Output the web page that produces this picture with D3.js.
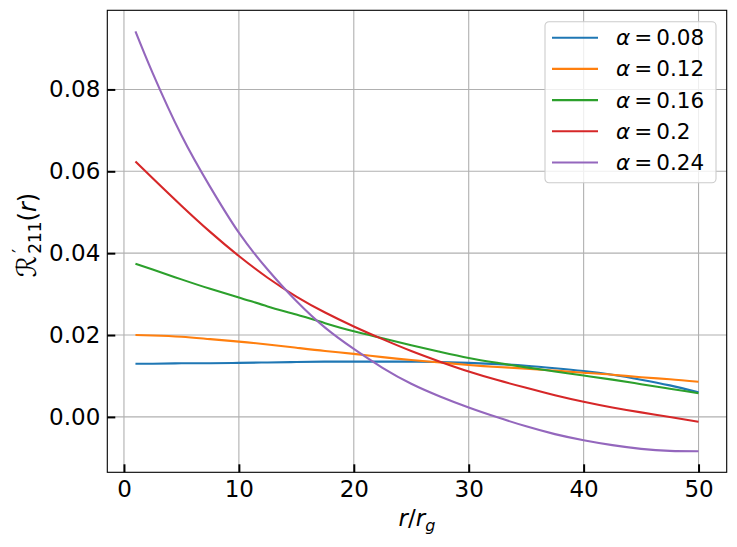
<!DOCTYPE html>
<html>
<head>
<meta charset="utf-8">
<script src="https://cdn.jsdelivr.net/npm/d3@7"></script>
<style>
  body { margin: 0; background: #fff; }
  text { font-family: "DejaVu Sans", sans-serif; }
</style>
</head>
<body>
<svg id="chart"></svg>
<script>
// radius values r/r_g where curves are read
const rValues = [1, 2.5, 5, 7.5, 10, 12.5, 15, 17.5, 20, 22.5, 25, 27.5, 30, 32.5, 35, 37.5, 40, 42.5, 45, 47.5, 50];

const alphaLabels = ["0.08", "0.12", "0.16", "0.2", "0.24"];

const a008 = [0.0130, 0.0130, 0.0131, 0.0131, 0.0132, 0.0133, 0.0134, 0.0135, 0.0135, 0.0135, 0.0135, 0.0134, 0.0132, 0.0129, 0.0125, 0.0119, 0.0112, 0.0103, 0.0091, 0.0077, 0.0060];
const a012 = [0.0200, 0.0199, 0.0196, 0.0190, 0.0184, 0.0177, 0.0169, 0.0161, 0.0154, 0.0146, 0.0139, 0.0133, 0.0127, 0.0122, 0.0118, 0.0113, 0.0108, 0.0103, 0.0097, 0.0092, 0.0086];
const a016 = [0.0374, 0.0360, 0.0336, 0.0313, 0.0292, 0.0270, 0.0250, 0.0229, 0.0209, 0.0192, 0.0175, 0.0159, 0.0144, 0.0132, 0.0121, 0.0111, 0.0101, 0.0091, 0.0080, 0.0069, 0.0058];
const a020 = [0.0624, 0.0583, 0.0516, 0.0452, 0.0393, 0.0340, 0.0294, 0.0255, 0.0221, 0.0190, 0.0161, 0.0135, 0.0111, 0.0090, 0.0071, 0.0053, 0.0037, 0.0023, 0.0011, 0.0000, -0.0012];
const a024 = [0.0942, 0.0840, 0.0688, 0.0562, 0.0450, 0.0360, 0.0283, 0.0218, 0.0166, 0.0120, 0.0081, 0.0050, 0.0023, -0.0001, -0.0023, -0.0042, -0.0057, -0.0069, -0.0078, -0.0083, -0.0084];

const xTicks = [0, 10, 20, 30, 40, 50];
const yTicks = [0.00, 0.02, 0.04, 0.06, 0.08];

const colors = ["#1f77b4", "#ff7f0e", "#2ca02c", "#d62728", "#9467bd"];

const series = [a008, a012, a016, a020, a024].map((vals, i) => ({
  label: alphaLabels[i],
  color: colors[i],
  points: rValues.map((r, j) => [r, vals[j]])
}));

const width = 737, height = 547;
const margin = { top: 10.3, right: 10.3, bottom: 74.7, left: 107.3 };
const w = width - margin.left - margin.right;
const h = height - margin.top - margin.bottom;

const svg = d3.select("#chart").attr("width", width).attr("height", height);
const g = svg.append("g").attr("transform", `translate(${margin.left},${margin.top})`);

// matplotlib style 5% padding
const xExt = d3.extent(rValues);
const xPad = (xExt[1] - xExt[0]) * 0.05;
const allY = series.flatMap(s => s.points.map(p => p[1]));
const yExt = d3.extent(allY);
const yPad = (yExt[1] - yExt[0]) * 0.05;

const x = d3.scaleLinear().domain([xExt[0] - xPad, xExt[1] + xPad]).range([0, w]);
const y = d3.scaleLinear().domain([yExt[0] - yPad, yExt[1] + yPad]).range([h, 0]);

// grid
g.append("g").selectAll("line").data(xTicks).enter().append("line")
  .attr("x1", d => x(d)).attr("x2", d => x(d))
  .attr("y1", 0).attr("y2", h)
  .attr("stroke", "#b0b0b0").attr("stroke-width", 1.1);
g.append("g").selectAll("line").data(yTicks).enter().append("line")
  .attr("y1", d => y(d)).attr("y2", d => y(d))
  .attr("x1", 0).attr("x2", w)
  .attr("stroke", "#b0b0b0").attr("stroke-width", 1.1);

// curves
const line = d3.line().x(d => x(d[0])).y(d => y(d[1])).curve(d3.curveNatural);
g.append("g").selectAll("path").data(series).enter().append("path")
  .attr("d", d => line(d.points))
  .attr("fill", "none")
  .attr("stroke", d => d.color)
  .attr("stroke-width", 2.1);

// axes, ticks pointing inward
const xAxis = d3.axisBottom(x).tickValues(xTicks).tickFormat(d3.format("d"))
  .tickSizeInner(-8).tickSizeOuter(0).tickPadding(8);
const yAxis = d3.axisLeft(y).tickValues(yTicks).tickFormat(d3.format(".2f"))
  .tickSizeInner(-8).tickSizeOuter(0).tickPadding(7);

const gx = g.append("g").attr("transform", `translate(0,${h})`).call(xAxis);
const gy = g.append("g").call(yAxis);
[gx, gy].forEach(ax => {
  ax.select(".domain").remove();
  ax.selectAll(".tick line").attr("stroke", "#000").attr("stroke-width", 2);
  ax.selectAll(".tick text").attr("fill", "#000")
    .style("font-family", "DejaVu Sans").style("font-size", "23px");
});

// frame
g.append("rect").attr("width", w).attr("height", h)
  .attr("fill", "none").attr("stroke", "#000").attr("stroke-width", 1.1);

// legend
const leg = svg.append("g").attr("transform", "translate(545,21.7)");
leg.append("rect")
  .attr("width", 171).attr("height", 161)
  .attr("rx", 4).attr("ry", 4)
  .attr("fill", "#fff").attr("fill-opacity", 0.8)
  .attr("stroke", "#cccccc").attr("stroke-width", 1.1);
const items = leg.selectAll("g.item").data(series).enter().append("g")
  .attr("transform", (d, i) => `translate(0,${16 + i * 31.2})`);
items.append("line")
  .attr("x1", 7).attr("x2", 53)
  .attr("stroke", d => d.color).attr("stroke-width", 2.1);
const lt = items.append("text")
  .attr("x", 71).attr("y", 7.5)
  .style("font-size", "21.5px").attr("fill", "#000");
lt.append("tspan").style("font-style", "italic").text("α");
lt.append("tspan").attr("dx", 4).text("=");
lt.append("tspan").attr("dx", 4).text(d => d.label);

// x label
const xl = svg.append("text")
  .attr("x", margin.left + w / 2).attr("y", 526)
  .attr("text-anchor", "middle").style("font-size", "23px");
xl.append("tspan").style("font-style", "italic").text("r");
xl.append("tspan").text("/");
xl.append("tspan").style("font-style", "italic").text("r");
xl.append("tspan").style("font-style", "italic").style("font-size", "16px").attr("dy", 5).text("g");

// y label
const yl = svg.append("text")
  .attr("transform", "translate(36,235) rotate(-90)")
  .attr("text-anchor", "middle").style("font-size", "24px");
yl.append("tspan").style("font-style", "italic").style("font-size", "27px").text("ℛ");
yl.append("tspan").style("font-size", "17px").attr("dx", 3).attr("dy", -11).text("′");
yl.append("tspan").style("font-size", "17px").attr("dx", -5).attr("dy", 16).text("211");
yl.append("tspan").attr("dy", -5).text("(");
yl.append("tspan").style("font-style", "italic").text("r");
yl.append("tspan").text(")");
</script>
</body>
</html>
